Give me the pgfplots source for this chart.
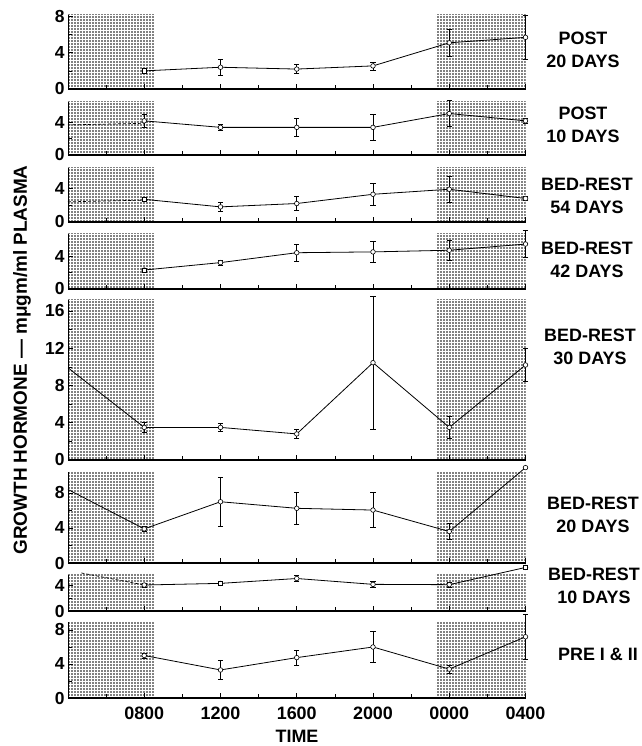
\documentclass[border=0pt]{standalone}
\usepackage{fontspec}
\setmainfont{Liberation Sans}
\usepackage{pgfplots}
\pgfplotsset{compat=1.18}
\usetikzlibrary{patterns.meta}

\tikzdeclarepattern{
  name=sdots,
  type=uncolored,
  bottom left={(-1.5bp,-1.5bp)},
  top right={(1.5bp,1.5bp)},
  tile size={(3bp,3bp)},
  code={\pgfpathcircle{\pgfpointorigin}{0.8bp}\pgfusepath{fill}}
}

\newcommand\shd[1]{%
  \fill[pattern=sdots, pattern color=black] (axis cs:4,0) rectangle (axis cs:8.55,#1);
  \fill[pattern=sdots, pattern color=black] (axis cs:23.3,0) rectangle (axis cs:28,#1);}

\pgfplotsset{
  panel/.style={
    scale only axis, width=457.5bp, xmin=4, xmax=28, ymin=0,
    axis x line*=bottom, axis y line*=left, clip=false,
    xtick={8,12,...,28}, minor xtick={6,10,...,26}, xticklabels={},
    tick align=inside, major tick length=5bp, minor tick length=4bp,
    x axis line style={line width=1.2bp},
    y axis line style={line width=0.6bp},
    every tick/.style={black, line width=0.6bp},
    minor y tick num=1,
    yticklabel style={font=\fontsize{17.5}{17.5}\selectfont\bfseries},
    /pgf/number format/assume math mode=true,
  },
  dat/.style={black, line width=0.8bp, mark=*, mark size=2.3bp,
    mark options={solid, fill=white, line width=0.6bp},
    error bars/y dir=both, error bars/y explicit,
    error bars/error bar style={line width=0.6bp, solid},
    error bars/error mark options={rotate=90, mark size=2.6bp, line width=0.6bp}},
  sq/.style={only marks, mark=square*, mark size=2.1bp, mark options={fill=white, line width=0.6bp}},
  seg/.style={black, line width=0.8bp},
  dsh/.style={black, line width=0.7bp, dash pattern=on 3bp off 2bp},
}

\begin{document}
\begin{tikzpicture}
\useasboundingbox (0,0) rectangle (642bp,746bp);

% Panel 1: POST 20 DAYS
\begin{axis}[panel, at={(68bp,657bp)}, height=74bp, ymax=8.17, ytick={0,4,8}]
\shd{8.17}
\addplot[dat] coordinates {(8,2.0)+-(0,0.3) (12,2.4)+-(0,0.9) (16,2.2)+-(0,0.5) (20,2.55)+-(0,0.45) (24,5.1)+-(0,1.5) (28,5.7)+-(0,2.45)};
\addplot[sq] coordinates {(8,2.0)};
\end{axis}

% Panel 2: POST 10 DAYS
\begin{axis}[panel, at={(68bp,591bp)}, height=53bp, ymax=6.52, ytick={0,4}]
\shd{6.52}
\addplot[dsh] coordinates {(4,3.7) (8,3.9)};
\addplot[dat] coordinates {(8,4.2)+-(0,0.8) (12,3.4)+-(0,0.4) (16,3.4)+-(0,1.15) (20,3.4)+-(0,1.6) (24,5.1)+-(0,1.6) (28,4.2)+-(0,0.3)};
\end{axis}

% Panel 3: BED-REST 54 DAYS
\begin{axis}[panel, at={(68bp,524bp)}, height=54bp, ymax=6.43, ytick={0,4}]
\shd{6.43}
\addplot[dsh] coordinates {(4,2.4) (8,2.6)};
\addplot[dat] coordinates {(8,2.7)+-(0,0.2) (12,1.8)+-(0,0.5) (16,2.2)+-(0,0.8) (20,3.3)+-(0,1.3) (24,3.9)+-(0,1.6) (28,2.8)+-(0,0.2)};
\addplot[sq] coordinates {(8,2.7)};
\end{axis}

% Panel 4: BED-REST 42 DAYS
\begin{axis}[panel, at={(68bp,457bp)}, height=55bp, ymax=6.67, ytick={0,4}]
\shd{6.67}
\addplot[dat] coordinates {(8,2.3)+-(0,0) (12,3.2)+-(0,0.3) (16,4.4)+-(0,1.0) (20,4.5)+-(0,1.3) (24,4.7)+-(0,1.2) (28,5.45)+-(0,1.65)};
\addplot[sq] coordinates {(8,2.3)};
\end{axis}

% Panel 5: BED-REST 30 DAYS
\begin{axis}[panel, at={(68bp,286bp)}, height=160bp, ymax=17.18, ytick={0,4,8,12,16}]
\shd{17.18}
\addplot[seg] coordinates {(4,9.9) (8,3.5)};
\addplot[dat] coordinates {(8,3.5)+-(0,0.5) (12,3.5)+-(0,0.45) (16,2.8)+-(0,0.5) (20,10.45)+-(0,7.15) (24,3.5)+-(0,1.2) (28,10.2)+-(0,1.75)};
\end{axis}

% Panel 6: BED-REST 20 DAYS
\begin{axis}[panel, at={(68bp,183bp)}, height=91bp, ymax=10.4, ytick={0,4,8}]
\shd{10.4}
\addplot[seg] coordinates {(4,8.4) (8,3.9)};
\addplot[dat] coordinates {(8,3.9)+-(0,0.3) (12,7.0)+-(0,2.8) (16,6.25)+-(0,1.8) (20,6.05)+-(0,2.0) (24,3.6)+-(0,0.9) (28,10.9)+-(0,0)};
\end{axis}

% Panel 7: BED-REST 10 DAYS
\begin{axis}[panel, at={(68bp,135bp)}, height=36bp, ymax=5.54, ytick={0,4}]
\shd{5.54}
\addplot[dsh] coordinates {(4.7,5.85) (8,4.0)};
\addplot[dat] coordinates {(8,4.0)+-(0,0.3) (12,4.25)+-(0,0) (16,5.0)+-(0,0.5) (20,4.1)+-(0,0.45) (24,4.05)+-(0,0.4) (28,6.7)+-(0,0)};
\addplot[sq] coordinates {(12,4.25) (28,6.7)};
\end{axis}

% Panel 8: PRE I & II
\begin{axis}[panel, at={(68bp,48bp)}, height=76bp, ymax=8.94, ytick={0,4,8},
  xticklabels={0800,1200,1600,2000,0000,0400},
  xticklabel style={font=\fontsize{18}{18}\selectfont\bfseries, yshift=-5bp}]
\shd{8.94}
\addplot[dat] coordinates {(8,5.0)+-(0,0.3) (12,3.3)+-(0,1.1) (16,4.75)+-(0,0.9) (20,6.0)+-(0,1.85) (24,3.4)+-(0,0.5) (28,7.2)+-(0,2.65)};
\end{axis}

% Right-hand labels
\begin{scope}[every node/.style={align=center, font=\fontsize{18}{22.5}\selectfont\bfseries}]
\node at (583bp,696bp) {POST\\20 DAYS};
\node at (583bp,621bp) {POST\\10 DAYS};
\node at (587bp,550bp) {BED-REST\\54 DAYS};
\node at (587bp,486bp) {BED-REST\\42 DAYS};
\node at (590bp,399bp) {BED-REST\\30 DAYS};
\node at (593bp,231bp) {BED-REST\\20 DAYS};
\node at (594bp,160bp) {BED-REST\\10 DAYS};
\node at (598bp,92bp) {PRE I \& II};
\end{scope}

\node[rotate=90, font=\fontsize{19}{20}\selectfont\bfseries] at (22bp,386bp) {GROWTH HORMONE — mμgm/ml PLASMA};
\node[font=\fontsize{18}{18}\selectfont\bfseries] at (297bp,10bp) {TIME};
\end{tikzpicture}
\end{document}
